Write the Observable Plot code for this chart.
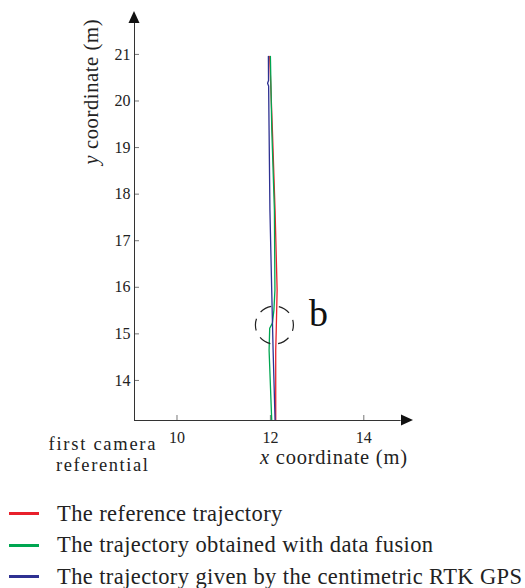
<!DOCTYPE html>
<html>
<head>
<meta charset="utf-8">
<script src="https://cdn.jsdelivr.net/npm/d3@7"></script>
<script src="https://cdn.jsdelivr.net/npm/@observablehq/plot@0.6"></script>
<style>
  html, body { margin: 0; padding: 0; background: #fff; }
  #wrap { width: 525px; font-family: "Liberation Serif", "Times New Roman", Tinos, "DejaVu Serif", serif; }
  .legend-row { height: 31.5px; display: flex; align-items: center; font-size: 22.5px; letter-spacing: 0.4px; color: #222; white-space: nowrap; }
  .sw { width: 30px; height: 3px; margin-left: 9px; margin-right: 18px; flex: none; }
</style>
</head>
<body>
<div id="wrap"></div>
<script>
// ---- data (metres) ----
const seriesNames = ["The reference trajectory", "The trajectory obtained with data fusion", "The trajectory given by the centimetric RTK GPS"];
const seriesColors = ["#e8202b", "#00a651", "#2e3192"];

const refX = [11.985, 12.043, 12.10, 12.144, 12.125, 12.114, 12.114];
const refY = [20.96, 19.37, 17.65, 15.94, 15.08, 14.65, 13.15];

const fusX = [12.0, 12.03, 12.086, 12.097, 12.075, 12.043, 11.985, 11.972, 12.028];
const fusY = [20.96, 19.37, 17.65, 15.94, 15.51, 15.23, 15.12, 14.65, 13.15];

const gpsX = [11.957, 11.96, 11.94, 11.962, 11.972, 11.99, 12.028, 12.058, 12.10];
const gpsY = [20.96, 20.44, 20.38, 20.32, 19.37, 17.65, 15.94, 14.65, 13.15];

const xTicks = [10, 12, 14];
const yTicks = [14, 15, 16, 17, 18, 19, 20, 21];
const xDomain = [9.09, 15.0];
const yDomain = [13.14, 21.9];

const zoomCircle = [{x: 12.086, y: 15.19}];
const zoomLabel = [{x: 13.03, y: 15.42, t: "b"}];

// ---- build ----
const ff = "Liberation Serif, Times New Roman, Tinos, DejaVu Serif, serif";
const toRows = (xs, ys, s) => xs.map((x, i) => ({x, y: ys[i], s}));
const lines = [
  ...toRows(refX, refY, seriesNames[0]),
  ...toRows(fusX, fusY, seriesNames[1]),
  ...toRows(gpsX, gpsY, seriesNames[2])
];
const tickLenX = 5 / 46.7, tickLenY = 5 / 46.6;

const plot = Plot.plot({
  width: 525,
  height: 498,
  marginLeft: 134,
  marginRight: 115,
  marginTop: 12,
  marginBottom: 78,
  style: {fontFamily: ff, fontSize: "16px", color: "#222", background: "#fff"},
  x: {domain: xDomain},
  y: {domain: yDomain},
  color: {domain: seriesNames, range: seriesColors},
  marks: [
    Plot.axisX(xTicks, {tickSize: 0, tickPadding: 11, fontSize: 16, label: null}),
    Plot.axisY(yTicks, {tickSize: 0, tickPadding: 4, fontSize: 16, label: null}),
    Plot.ruleY(yTicks, {x1: xDomain[0], x2: xDomain[0] + tickLenX, stroke: "#777"}),
    Plot.ruleX(xTicks, {y1: yDomain[0], y2: yDomain[0] + tickLenY, stroke: "#777"}),
    Plot.line(lines, {x: "x", y: "y", z: "s", stroke: "s", strokeWidth: 1.3}),
    Plot.dot(zoomCircle, {x: "x", y: "y", r: 19, fill: "none", stroke: "#222", strokeWidth: 1.2, strokeDasharray: "12,7.9", strokeDashoffset: 6}),
    Plot.text(zoomLabel, {x: "x", y: "y", text: "t", fontSize: 38, fill: "#111"}),
    Plot.ruleX([xDomain[0]], {y1: yDomain[0], y2: yDomain[1] - 0.2, stroke: "#333", strokeWidth: 1}),
    Plot.ruleY([yDomain[0]], {x1: xDomain[0], x2: xDomain[1] - 0.2, stroke: "#333", strokeWidth: 1})
  ]
});

// arrowheads and axis titles (positioned from the plot's scales)
const sx = plot.scale("x"), sy = plot.scale("y");
const svg = d3.select(plot);
const ax = sx.apply(xDomain[0]), ay = sy.apply(yDomain[0]);
const topY = sy.apply(yDomain[1]), rightX = sx.apply(xDomain[1]);
svg.append("path").attr("fill", "#111")
  .attr("d", `M${ax},${topY - 1} L${ax - 5.5},${topY + 11} L${ax + 5.5},${topY + 11} Z`);
svg.append("path").attr("fill", "#111")
  .attr("d", `M${rightX + 3},${ay} L${rightX - 9},${ay - 5.5} L${rightX - 9},${ay + 5.5} Z`);

const yl = svg.append("text").attr("transform", `translate(98,92) rotate(-90)`)
  .attr("text-anchor", "middle").attr("font-family", ff).attr("font-size", 20.5).attr("fill", "#222")
  .attr("textLength", 145).attr("lengthAdjust", "spacing");
yl.append("tspan").attr("font-style", "italic").text("y");
yl.append("tspan").text(" coordinate (m)");

const xl = svg.append("text").attr("x", 260).attr("y", 464)
  .attr("text-anchor", "start").attr("font-family", ff).attr("font-size", 20.5).attr("fill", "#222")
  .attr("textLength", 147).attr("lengthAdjust", "spacing");
xl.append("tspan").attr("font-style", "italic").text("x");
xl.append("tspan").text(" coordinate (m)");

svg.append("text").attr("x", 102).attr("y", 450).attr("text-anchor", "middle")
  .attr("font-family", ff).attr("font-size", 18.5).attr("fill", "#222")
  .attr("textLength", 107).attr("lengthAdjust", "spacing").text("first camera");
svg.append("text").attr("x", 102).attr("y", 471).attr("text-anchor", "middle")
  .attr("font-family", ff).attr("font-size", 18.5).attr("fill", "#222")
  .attr("textLength", 92).attr("lengthAdjust", "spacing").text("referential");

const wrap = document.getElementById("wrap");
wrap.appendChild(plot);
plot.style.display = "block";

const legend = document.createElement("div");
seriesNames.forEach((name, i) => {
  const row = document.createElement("div");
  row.className = "legend-row";
  const sw = document.createElement("div");
  sw.className = "sw";
  sw.style.background = seriesColors[i];
  const label = document.createElement("span");
  label.textContent = name;
  row.appendChild(sw);
  row.appendChild(label);
  legend.appendChild(row);
});
wrap.appendChild(legend);
</script>
</body>
</html>
